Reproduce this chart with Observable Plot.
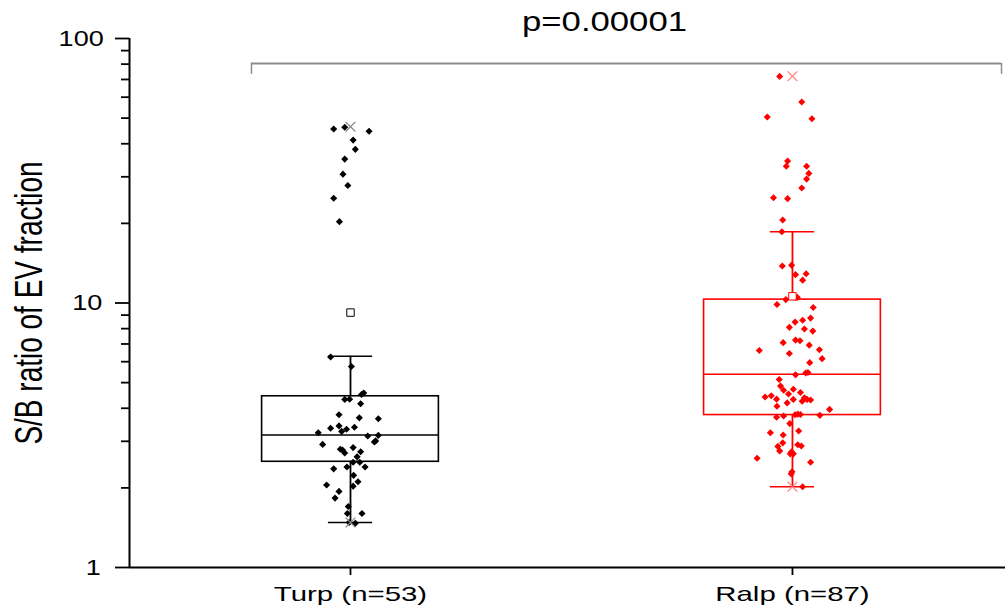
<!DOCTYPE html>
<html><head><meta charset="utf-8">
<script src="https://cdn.jsdelivr.net/npm/d3@7"></script>
<script src="https://cdn.jsdelivr.net/npm/@observablehq/plot@0.6"></script>
<style>
body{margin:0;background:#fff}
#chart svg{display:block}
</style>
</head><body><div id="chart"></div>
<script>
// ---- data ----
const groups = ["Turp (n=53)", "Ralp (n=87)"];
const groupPos = [1, 2];

const turpValues = [45.5,46.2,44.6,41.3,38.1,35.0,30.7,27.8,24.9,20.3,
  6.25,5.75,4.57,4.51,4.32,4.33,4.16,3.78,3.68,3.65,3.36,3.43,3.33,3.27,3.39,3.23,3.14,3.16,3.01,2.98,
  2.92,2.80,2.78,2.71,2.84,2.74,2.62,2.50,2.50,2.40,2.40,2.36,2.23,2.11,2.05,2.03,1.94,1.83,1.70,1.60,1.60,1.47,1.48];
const turpJitter = [-0.038,-0.013,0.042,0.006,0.011,-0.013,-0.017,-0.006,-0.038,-0.025,
  -0.045,0.002,0.030,0.025,-0.013,-0.002,0.023,-0.026,0.020,0.063,-0.045,-0.026,-0.009,-0.020,0.009,-0.073,0.039,0.063,0.057,0.054,
  -0.063,-0.023,-0.018,-0.013,0.006,0.023,0.015,0.006,0.021,-0.008,0.033,-0.038,0.007,0.017,-0.054,0.006,-0.026,-0.035,-0.005,-0.007,0.026,0.011,-0.003];

const ralpValues = [71.9,57.5,50.5,49.7,34.4,32.9,32.9,30.9,29.4,27.2,25.0,24.8,20.6,18.6,13.8,13.9,12.8,12.9,12.2,
  10.3,10.5,10.5,9.87,9.62,8.77,8.61,8.47,8.09,7.97,7.83,7.24,7.20,7.08,6.93,6.61,6.66,6.44,6.16,5.95,
  5.35,5.44,5.46,5.14,4.85,4.68,4.72,4.53,4.59,4.41,4.46,4.33,4.32,4.19,4.38,4.32,4.30,4.25,4.07,3.96,3.76,
  3.70,3.74,3.78,3.80,3.79,3.50,3.28,3.23,3.17,2.96,2.87,2.76,2.91,2.88,2.69,2.69,2.74,2.59,2.50,2.30,2.26,2.02];
const ralpJitter = [-0.029,0.021,-0.057,0.044,-0.011,-0.014,0.032,0.037,0.032,0.021,-0.043,-0.011,-0.022,-0.024,-0.023,-0.002,0.007,0.031,0.023,
  -0.015,0.007,0.011,-0.035,0.047,0.041,0.023,0.006,-0.007,0.027,0.046,0.007,0.017,-0.021,0.038,-0.075,0.061,-0.007,0.067,0.039,
  0.007,0.030,0.035,-0.030,-0.027,-0.020,0.002,-0.009,0.018,-0.062,-0.048,-0.036,0.002,-0.012,0.027,0.033,0.041,0.022,-0.035,0.084,0.062,
  -0.036,-0.020,0.006,0.012,0.018,-0.006,0.014,-0.050,-0.021,-0.022,-0.033,-0.029,0.012,0.020,-0.005,0.002,-0.002,-0.080,0.041,-0.001,-0.003,0.023];

const q1 = [2.51, 3.77];
const medians = [3.17, 5.38];
const q3 = [4.44, 10.3];
const whiskerLow = [1.48, 2.02];
const whiskerHigh = [6.29, 18.6];
const means = [9.2, 10.6];
const mins = [1.48, 2.02];
const maxs = [46.4, 72.0];

const majorTicks = [1, 10, 100];
const minorTicks = [2,3,4,5,6,7,8,9,20,30,40,50,60,70,80,90];
const pLabel = "p=0.00001";
const bracketX = [0.776, 2.473];
const bracketY = [73.2, 80.5];
const yLabel = "S/B ratio of EV fraction";

// ---- build ----
const colors = ["#000000", "#ff0000"];
const crossColors = ["#8a8a8a", "#ff8080"];
const points = [
  ...turpValues.map((v, i) => ({g: 0, x: groupPos[0] + turpJitter[i], y: v})),
  ...ralpValues.map((v, i) => ({g: 1, x: groupPos[1] + ralpJitter[i], y: v}))
];
const stats = groups.map((name, i) => ({
  i, name, x: groupPos[i], q1: q1[i], med: medians[i], q3: q3[i],
  lo: whiskerLow[i], hi: whiskerHigh[i], mean: means[i], min: mins[i], max: maxs[i]
}));
const bw = 0.2, cw = 0.05;
const xDomain = [0.5, 2.482];
const FONT = "Liberation Sans, Arial, sans-serif";

const chart = Plot.plot({
  width: 1005, height: 609,
  marginLeft: 129, marginRight: 0, marginTop: 38, marginBottom: 42,
  style: {fontFamily: FONT, background: "#fff", overflow: "visible"},
  x: {type: "linear", domain: xDomain, axis: null},
  y: {type: "log", domain: [1, 100], axis: null},
  marks: [
    // boxes
    Plot.rect(stats, {x1: d => d.x - bw, x2: d => d.x + bw, y1: "q1", y2: "q3",
      fill: "none", stroke: d => colors[d.i], strokeWidth: 1.6}),
    Plot.ruleY(stats, {y: "med", x1: d => d.x - bw, x2: d => d.x + bw, stroke: d => colors[d.i], strokeWidth: 1.6}),
    Plot.ruleX(stats, {x: "x", y1: "q3", y2: "hi", stroke: d => colors[d.i], strokeWidth: 1.8}),
    Plot.ruleX(stats, {x: "x", y1: "lo", y2: "q1", stroke: d => colors[d.i], strokeWidth: 1.8}),
    Plot.ruleY(stats, {y: "hi", x1: d => d.x - cw, x2: d => d.x + cw, stroke: d => colors[d.i], strokeWidth: 1.6}),
    Plot.ruleY(stats, {y: "lo", x1: d => d.x - cw, x2: d => d.x + cw, stroke: d => colors[d.i], strokeWidth: 1.6}),
    // points
    Plot.dot(points, {x: "x", y: "y", symbol: "diamond2", r: 3.2, fill: d => colors[d.g], stroke: "none"}),
    // mean squares
    Plot.dot(stats, {x: "x", y: "mean", symbol: "square", r: 4.2, fill: "white", stroke: d => colors[d.i], strokeWidth: 1}),
    // min / max crosses
    Plot.dot(stats, {x: "x", y: "max", symbol: "times", r: 4.5, stroke: d => crossColors[d.i], strokeWidth: 1.3}),
    Plot.dot(stats, {x: "x", y: "min", symbol: "times", r: 4.5, stroke: d => crossColors[d.i], strokeWidth: 1.3}),
    // significance bracket
    Plot.ruleY([bracketY[1]], {x1: bracketX[0], x2: bracketX[1], stroke: "#8c8c8c", strokeWidth: 2}),
    Plot.ruleX(bracketX, {x: d => d, y1: bracketY[0], y2: bracketY[1], stroke: "#8c8c8c", strokeWidth: 1.5}),
    Plot.text([pLabel], {x: (bracketX[0] + bracketX[1]) / 2, frameAnchor: "top", lineAnchor: "middle",
      dx: -22, dy: -16, fontSize: 28, fill: "#000"}),
    // axes
    Plot.ruleX([xDomain[0]], {stroke: "#000", strokeWidth: 2}),
    Plot.ruleY([1], {stroke: "#000", strokeWidth: 2}),
    Plot.axisY(majorTicks, {tickSize: 14, tickPadding: 16, fontSize: 22, label: null,
      tickFormat: d => String(d), strokeWidth: 1.8, fill: "#000"}),
    Plot.axisY(minorTicks, {tickSize: 8, label: null, tickFormat: () => "", strokeWidth: 1.8}),
    Plot.axisX(groupPos, {tickSize: 8, tickPadding: 11, fontSize: 21, label: null,
      tickFormat: d => groups[groupPos.indexOf(d)], strokeWidth: 1.8, fill: "#000"}),
    Plot.text([yLabel], {frameAnchor: "left", dx: -100, rotate: -90, fontSize: 28, textAnchor: "middle",
      fill: "#000"})
  ]
});
document.getElementById("chart").appendChild(chart);

// The reference figure is stretched horizontally; widen the glyphs around their own centres.
function stretch(t, sx, sy) {
  const b = t.getBBox();
  const cx = b.x + b.width / 2, cy = b.y + b.height / 2;
  const prev = t.getAttribute("transform") || "";
  t.setAttribute("transform", `${prev} translate(${cx},${cy}) scale(${sx},${sy}) translate(${-cx},${-cy})`);
}
chart.querySelectorAll("text").forEach(t => {
  const s = t.textContent;
  if (!s) return;
  if (s === yLabel) stretch(t, 1, 1.37);
  else if (s === pLabel) stretch(t, 1.24, 1);
  else if (groups.includes(s)) stretch(t, 1.4, 1);
  else { t.setAttribute("font-size", 22); stretch(t, 1.23, 1); }
});
</script>
</body></html>
